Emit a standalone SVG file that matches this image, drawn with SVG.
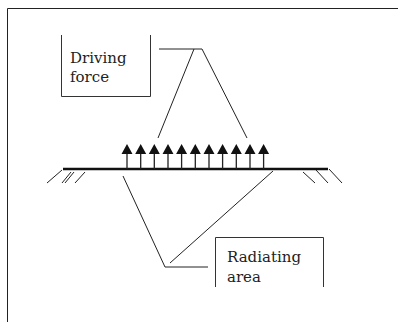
<svg xmlns="http://www.w3.org/2000/svg" width="398" height="322" viewBox="0 0 398 322">
<style>
.ln{stroke:#222;stroke-width:1;fill:none}
.gr{stroke:#111;stroke-width:2.5;fill:none}
.ar{stroke:#222;stroke-width:1.3;fill:none}
.hd{fill:#111;stroke:none}
.box{stroke:#333;stroke-width:1;fill:none}
.t{font-family:"DejaVu Serif",serif;font-size:15px;fill:#222}
</style>
<rect width="398" height="322" fill="#fff"/>
<path class="ln" d="M7.5,322 V8.5 H398" stroke-width="1.5"/>
<g id="driving-force">
<path class="box" d="M61.5,35 V96.5 H150.5 V35"/>
<text class="t" x="70" y="63">Driving</text>
<text class="t" x="70" y="82">force</text>
</g>
<g id="radiating-area">
<path class="box" d="M215.5,287 V237.5 H323.5 V287"/>
<text class="t" x="227" y="262">Radiating</text>
<text class="t" x="227" y="282">area</text>
</g>
<g id="ground">
<line class="gr" x1="63" y1="169" x2="328" y2="169"/>
<path class="ln" d="M62,170 L47,183 M71,172 L62,183 M74,172 L65,183 M85,172 L75,183 M303,172 L315,183 M316,170 L328,183 M329,169 L342,183"/>
</g>
<g id="arrows">
<path class="ar" d="M127,169V152 M140.7,169V152 M154.3,169V152 M168,169V152 M181.6,169V152 M195.3,169V152 M209,169V152 M222.6,169V152 M236.3,169V152 M250,169V152 M263.6,169V152"/>
<path class="hd" d="M127,144l-5.5,10h11z M140.7,144l-5.5,10h11z M154.3,144l-5.5,10h11z M168,144l-5.5,10h11z M181.6,144l-5.5,10h11z M195.3,144l-5.5,10h11z M209,144l-5.5,10h11z M222.6,144l-5.5,10h11z M236.3,144l-5.5,10h11z M250,144l-5.5,10h11z M263.6,144l-5.5,10h11z"/>
</g>
<g id="connectors">
<path class="ln" d="M159,49 H194 L158,138"/>
<path class="ln" d="M194,49 H202 L247,138"/>
<path class="ln" d="M123,176 L165,267 H208"/>
<path class="ln" d="M273,171 L170,263"/>
</g>
</svg>
